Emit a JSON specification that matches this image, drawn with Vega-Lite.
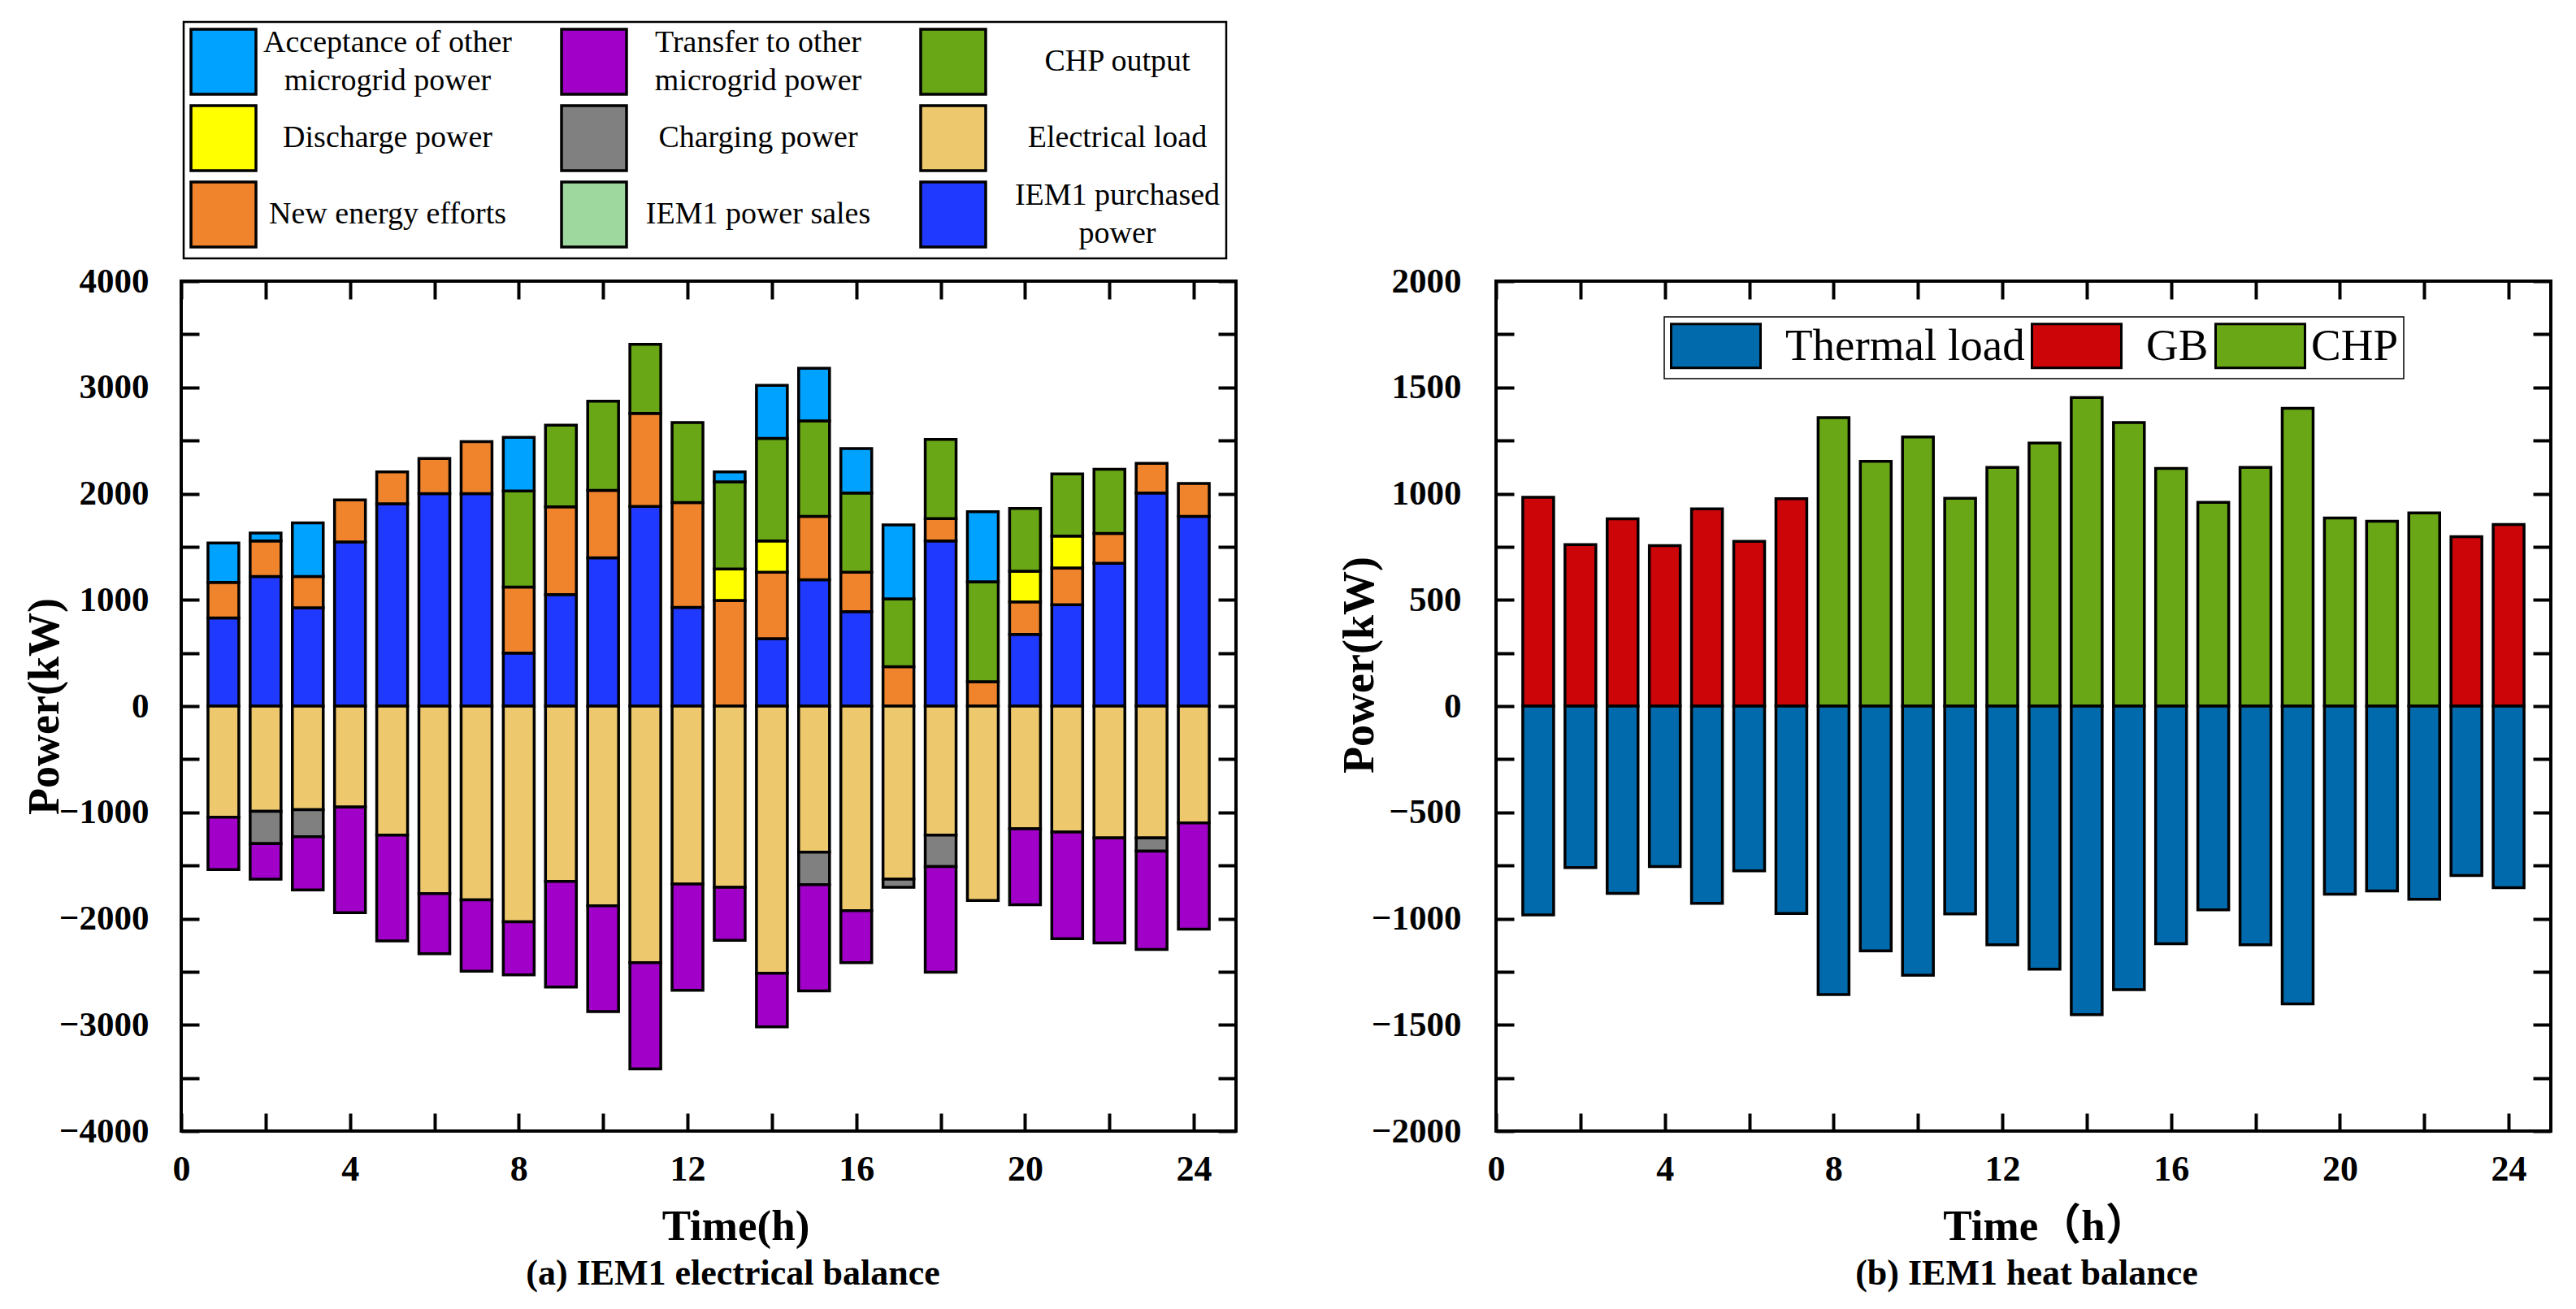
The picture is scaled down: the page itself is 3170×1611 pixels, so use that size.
{
  "$schema": "https://vega.github.io/schema/vega-lite/v6.json",
  "background": "white",
  "padding": {"left": 26, "top": 23, "right": 10, "bottom": 10},
  "bounds": "flush",
  "spacing": 320,
  "resolve": {"scale": {"color": "independent"}, "legend": {"color": "independent"}},
  "config": {
    "view": {"stroke": "black", "strokeWidth": 4},
    "axis": {
      "labelFont": "Liberation Serif", "labelFontWeight": "bold", "labelColor": "black",
      "tickColor": "black", "tickWidth": 4, "tickSize": -22, "domain": false, "grid": false,
      "titleFont": "Liberation Serif", "titleFontWeight": "bold", "titleColor": "black",
      "labelFlush": false, "labelOverlap": false
    },
    "legend": {"labelFont": "Liberation Serif", "labelColor": "black", "labelLimit": 1000}
  },
  "hconcat": [
    {
      "width": 1298,
      "height": 1046,
      "title": {"text": "(a) IEM1 electrical balance", "orient": "bottom", "font": "Liberation Serif", "fontSize": 44, "fontWeight": "bold", "color": "black", "offset": 10, "dx": 30, "anchor": "middle"},
      "data": {"values": [
        {"h":1,"s":"IEM1 purchased power","v":830},{"h":1,"s":"New energy efforts","v":335},{"h":1,"s":"Acceptance of other microgrid power","v":370},{"h":1,"s":"Electrical load","v":-1045},{"h":1,"s":"Transfer to other microgrid power","v":-495},
        {"h":2,"s":"IEM1 purchased power","v":1220},{"h":2,"s":"New energy efforts","v":335},{"h":2,"s":"Acceptance of other microgrid power","v":75},{"h":2,"s":"Electrical load","v":-990},{"h":2,"s":"Charging power","v":-305},{"h":2,"s":"Transfer to other microgrid power","v":-335},
        {"h":3,"s":"IEM1 purchased power","v":925},{"h":3,"s":"New energy efforts","v":295},{"h":3,"s":"Acceptance of other microgrid power","v":505},{"h":3,"s":"Electrical load","v":-975},{"h":3,"s":"Charging power","v":-255},{"h":3,"s":"Transfer to other microgrid power","v":-500},
        {"h":4,"s":"IEM1 purchased power","v":1545},{"h":4,"s":"New energy efforts","v":395},{"h":4,"s":"Electrical load","v":-950},{"h":4,"s":"Transfer to other microgrid power","v":-995},
        {"h":5,"s":"IEM1 purchased power","v":1905},{"h":5,"s":"New energy efforts","v":300},{"h":5,"s":"Electrical load","v":-1215},{"h":5,"s":"Transfer to other microgrid power","v":-995},
        {"h":6,"s":"IEM1 purchased power","v":2000},{"h":6,"s":"New energy efforts","v":330},{"h":6,"s":"Electrical load","v":-1765},{"h":6,"s":"Transfer to other microgrid power","v":-565},
        {"h":7,"s":"IEM1 purchased power","v":2000},{"h":7,"s":"New energy efforts","v":490},{"h":7,"s":"Electrical load","v":-1825},{"h":7,"s":"Transfer to other microgrid power","v":-670},
        {"h":8,"s":"IEM1 purchased power","v":500},{"h":8,"s":"New energy efforts","v":620},{"h":8,"s":"CHP output","v":905},{"h":8,"s":"Acceptance of other microgrid power","v":505},{"h":8,"s":"Electrical load","v":-2030},{"h":8,"s":"Transfer to other microgrid power","v":-500},
        {"h":9,"s":"IEM1 purchased power","v":1050},{"h":9,"s":"New energy efforts","v":825},{"h":9,"s":"CHP output","v":770},{"h":9,"s":"Electrical load","v":-1650},{"h":9,"s":"Transfer to other microgrid power","v":-995},
        {"h":10,"s":"IEM1 purchased power","v":1395},{"h":10,"s":"New energy efforts","v":635},{"h":10,"s":"CHP output","v":840},{"h":10,"s":"Electrical load","v":-1880},{"h":10,"s":"Transfer to other microgrid power","v":-995},
        {"h":11,"s":"IEM1 purchased power","v":1880},{"h":11,"s":"New energy efforts","v":875},{"h":11,"s":"CHP output","v":650},{"h":11,"s":"Electrical load","v":-2415},{"h":11,"s":"Transfer to other microgrid power","v":-1000},
        {"h":12,"s":"IEM1 purchased power","v":930},{"h":12,"s":"New energy efforts","v":985},{"h":12,"s":"CHP output","v":755},{"h":12,"s":"Electrical load","v":-1675},{"h":12,"s":"Transfer to other microgrid power","v":-1000},
        {"h":13,"s":"New energy efforts","v":995},{"h":13,"s":"Discharge power","v":295},{"h":13,"s":"CHP output","v":820},{"h":13,"s":"Acceptance of other microgrid power","v":95},{"h":13,"s":"Electrical load","v":-1705},{"h":13,"s":"Transfer to other microgrid power","v":-500},
        {"h":14,"s":"IEM1 purchased power","v":635},{"h":14,"s":"New energy efforts","v":625},{"h":14,"s":"Discharge power","v":295},{"h":14,"s":"CHP output","v":965},{"h":14,"s":"Acceptance of other microgrid power","v":500},{"h":14,"s":"Electrical load","v":-2515},{"h":14,"s":"Transfer to other microgrid power","v":-505},
        {"h":15,"s":"IEM1 purchased power","v":1190},{"h":15,"s":"New energy efforts","v":595},{"h":15,"s":"CHP output","v":900},{"h":15,"s":"Acceptance of other microgrid power","v":495},{"h":15,"s":"Electrical load","v":-1375},{"h":15,"s":"Charging power","v":-305},{"h":15,"s":"Transfer to other microgrid power","v":-1000},
        {"h":16,"s":"IEM1 purchased power","v":890},{"h":16,"s":"New energy efforts","v":370},{"h":16,"s":"CHP output","v":745},{"h":16,"s":"Acceptance of other microgrid power","v":420},{"h":16,"s":"Electrical load","v":-1925},{"h":16,"s":"Transfer to other microgrid power","v":-490},
        {"h":17,"s":"New energy efforts","v":370},{"h":17,"s":"CHP output","v":640},{"h":17,"s":"Acceptance of other microgrid power","v":695},{"h":17,"s":"Electrical load","v":-1630},{"h":17,"s":"Charging power","v":-75},
        {"h":18,"s":"IEM1 purchased power","v":1555},{"h":18,"s":"New energy efforts","v":210},{"h":18,"s":"CHP output","v":745},{"h":18,"s":"Electrical load","v":-1215},{"h":18,"s":"Charging power","v":-295},{"h":18,"s":"Transfer to other microgrid power","v":-995},
        {"h":19,"s":"New energy efforts","v":230},{"h":19,"s":"CHP output","v":940},{"h":19,"s":"Acceptance of other microgrid power","v":660},{"h":19,"s":"Electrical load","v":-1830},
        {"h":20,"s":"IEM1 purchased power","v":675},{"h":20,"s":"New energy efforts","v":305},{"h":20,"s":"Discharge power","v":290},{"h":20,"s":"CHP output","v":590},{"h":20,"s":"Electrical load","v":-1155},{"h":20,"s":"Transfer to other microgrid power","v":-715},
        {"h":21,"s":"IEM1 purchased power","v":955},{"h":21,"s":"New energy efforts","v":345},{"h":21,"s":"Discharge power","v":300},{"h":21,"s":"CHP output","v":585},{"h":21,"s":"Electrical load","v":-1185},{"h":21,"s":"Transfer to other microgrid power","v":-1005},
        {"h":22,"s":"IEM1 purchased power","v":1345},{"h":22,"s":"New energy efforts","v":280},{"h":22,"s":"CHP output","v":605},{"h":22,"s":"Electrical load","v":-1240},{"h":22,"s":"Transfer to other microgrid power","v":-990},
        {"h":23,"s":"IEM1 purchased power","v":2005},{"h":23,"s":"New energy efforts","v":280},{"h":23,"s":"Electrical load","v":-1240},{"h":23,"s":"Charging power","v":-125},{"h":23,"s":"Transfer to other microgrid power","v":-925},
        {"h":24,"s":"IEM1 purchased power","v":1785},{"h":24,"s":"New energy efforts","v":310},{"h":24,"s":"Electrical load","v":-1100},{"h":24,"s":"Transfer to other microgrid power","v":-1000}
      ]},
      "transform": [
        {"calculate": "indexof(['IEM1 purchased power','Electrical load','New energy efforts','Charging power','Discharge power','Transfer to other microgrid power','CHP output','Acceptance of other microgrid power','IEM1 power sales'], datum.s)", "as": "k"}
      ],
      "layer": [
        {
          "mark": {"type": "bar", "size": 38, "stroke": "black", "strokeWidth": 3.5},
          "encoding": {
            "x": {"field": "h", "type": "quantitative",
              "scale": {"domain": [0, 25], "nice": false, "zero": false, "padding": 0},
              "axis": {"orient": "bottom", "values": [0,2,4,6,8,10,12,14,16,18,20,22,24],
                "labelExpr": "datum.value % 4 === 0 ? datum.label : ''",
                "encode": {"ticks": {"update": {"y2": {"signal": "datum.value % 4 === 0 ? -22 : -12"}}}},
                "labelFontSize": 44, "labelPadding": 47, "labelDx": 16,
                "title": "Time(h)", "titleFontSize": 53, "titleX": 682, "titleY": 133, "titleBaseline": "alphabetic"}},
            "y": {"field": "v", "type": "quantitative", "stack": "zero",
              "scale": {"domain": [-4000, 4000], "nice": false, "padding": 0},
              "axis": {"orient": "left", "values": [-4000,-3500,-3000,-2500,-2000,-1500,-1000,-500,0,500,1000,1500,2000,2500,3000,3500,4000],
                "format": "d",
                "labelExpr": "datum.value % 1000 === 0 ? datum.label : ''",
                "encode": {"ticks": {"update": {"x2": {"signal": "datum.value % 1000 === 0 ? 22 : 12"}}}},
                "labelFontSize": 43, "labelPadding": 62,
                "title": "Power(kW)", "titleFontSize": 54, "titleX": -168, "titleY": 523, "titleBaseline": "middle"}},
            "color": {"field": "s", "type": "nominal",
              "scale": {
                "domain": ["Acceptance of other microgrid power","Transfer to other microgrid power","CHP output","Discharge power","Charging power","Electrical load","New energy efforts","IEM1 power sales","IEM1 purchased power"],
                "range": ["#00A2FF","#A000C8","#6AA716","#FFFF00","#808080","#EDC86C","#F0842C","#9ED89E","#2039FF"]},
              "legend": {"orient": "none", "legendX": 3, "legendY": -319, "direction": "horizontal", "columns": 3, "title": null,
                "symbolType": "square", "symbolSize": 6400, "symbolStrokeColor": "black", "symbolStrokeWidth": 3.5, "symbolOpacity": 1,
                "labelFontSize": 38, "labelAlign": "center", "labelBaseline": "middle", "labelOffset": 160,
                "labelExpr": "datum.label == 'Acceptance of other microgrid power' ? ['Acceptance of other','microgrid power'] : datum.label == 'Transfer to other microgrid power' ? ['Transfer to other','microgrid power'] : datum.label == 'IEM1 purchased power' ? ['IEM1 purchased','power'] : datum.label",
                "columnPadding": 54, "rowPadding": 0, "padding": 7, "strokeColor": "black",
                "encode": {
                  "legend": {"update": {"strokeWidth": {"value": 2.5}}},
                  "labels": {"update": {"lineHeight": {"value": 47}, "dy": {"signal": "indexof(['Acceptance of other microgrid power','Transfer to other microgrid power','IEM1 purchased power'], datum.value) >= 0 ? -23.5 : 0"}}}
                }}},
            "order": {"field": "k", "type": "quantitative"}
          }
        },
        {
          "mark": {"type": "point", "opacity": 0},
          "encoding": {
            "x": {"field": "h", "type": "quantitative",
              "axis": {"orient": "top", "values": [0,2,4,6,8,10,12,14,16,18,20,22,24], "labels": false, "title": null,
                "encode": {"ticks": {"update": {"y2": {"signal": "datum.value % 4 === 0 ? 22 : 12"}}}}}},
            "y": {"field": "v", "type": "quantitative",
              "axis": {"orient": "right", "values": [-4000,-3500,-3000,-2500,-2000,-1500,-1000,-500,0,500,1000,1500,2000,2500,3000,3500,4000], "labels": false, "title": null,
                "encode": {"ticks": {"update": {"x2": {"signal": "datum.value % 1000 === 0 ? -22 : -12"}}}}}}
          }
        }
      ],
      "resolve": {"axis": {"x": "independent", "y": "independent"}}
    },
    {
      "width": 1298,
      "height": 1046,
      "title": {"text": "(b) IEM1 heat balance", "orient": "bottom", "font": "Liberation Serif", "fontSize": 44, "fontWeight": "bold", "color": "black", "offset": 10, "dx": 4, "anchor": "middle"},
      "data": {"values": [
        {"h":1,"s":"GB","v":983},{"h":1,"s":"Thermal load","v":-983},
        {"h":2,"s":"GB","v":760},{"h":2,"s":"Thermal load","v":-760},
        {"h":3,"s":"GB","v":881},{"h":3,"s":"Thermal load","v":-881},
        {"h":4,"s":"GB","v":755},{"h":4,"s":"Thermal load","v":-755},
        {"h":5,"s":"GB","v":928},{"h":5,"s":"Thermal load","v":-928},
        {"h":6,"s":"GB","v":775},{"h":6,"s":"Thermal load","v":-775},
        {"h":7,"s":"GB","v":976},{"h":7,"s":"Thermal load","v":-976},
        {"h":8,"s":"CHP","v":1358},{"h":8,"s":"Thermal load","v":-1358},
        {"h":9,"s":"CHP","v":1152},{"h":9,"s":"Thermal load","v":-1152},
        {"h":10,"s":"CHP","v":1267},{"h":10,"s":"Thermal load","v":-1267},
        {"h":11,"s":"CHP","v":978},{"h":11,"s":"Thermal load","v":-978},
        {"h":12,"s":"CHP","v":1123},{"h":12,"s":"Thermal load","v":-1123},
        {"h":13,"s":"CHP","v":1238},{"h":13,"s":"Thermal load","v":-1238},
        {"h":14,"s":"CHP","v":1452},{"h":14,"s":"Thermal load","v":-1452},
        {"h":15,"s":"CHP","v":1335},{"h":15,"s":"Thermal load","v":-1335},
        {"h":16,"s":"CHP","v":1119},{"h":16,"s":"Thermal load","v":-1119},
        {"h":17,"s":"CHP","v":959},{"h":17,"s":"Thermal load","v":-959},
        {"h":18,"s":"CHP","v":1123},{"h":18,"s":"Thermal load","v":-1123},
        {"h":19,"s":"CHP","v":1402},{"h":19,"s":"Thermal load","v":-1402},
        {"h":20,"s":"CHP","v":885},{"h":20,"s":"Thermal load","v":-885},
        {"h":21,"s":"CHP","v":870},{"h":21,"s":"Thermal load","v":-870},
        {"h":22,"s":"CHP","v":909},{"h":22,"s":"Thermal load","v":-909},
        {"h":23,"s":"GB","v":797},{"h":23,"s":"Thermal load","v":-797},
        {"h":24,"s":"GB","v":855},{"h":24,"s":"Thermal load","v":-855}
      ]},
      "layer": [
        {
          "mark": {"type": "bar", "size": 38, "stroke": "black", "strokeWidth": 3.5},
          "encoding": {
            "x": {"field": "h", "type": "quantitative",
              "scale": {"domain": [0, 25], "nice": false, "zero": false, "padding": 0},
              "axis": {"orient": "bottom", "values": [0,2,4,6,8,10,12,14,16,18,20,22,24],
                "labelExpr": "datum.value % 4 === 0 ? datum.label : ''",
                "encode": {"ticks": {"update": {"y2": {"signal": "datum.value % 4 === 0 ? -22 : -12"}}}},
                "labelFontSize": 44, "labelPadding": 47, "labelDx": 16,
                "title": "Time（h）", "titleFont": "Liberation Serif, Noto Sans CJK SC", "titleFontSize": 53, "titleX": 676, "titleY": 133, "titleBaseline": "alphabetic"}},
            "y": {"field": "v", "type": "quantitative", "stack": "zero",
              "scale": {"domain": [-2000, 2000], "nice": false, "padding": 0},
              "axis": {"orient": "left", "values": [-2000,-1750,-1500,-1250,-1000,-750,-500,-250,0,250,500,750,1000,1250,1500,1750,2000],
                "format": "d",
                "labelExpr": "datum.value % 500 === 0 ? datum.label : ''",
                "encode": {"ticks": {"update": {"x2": {"signal": "datum.value % 500 === 0 ? 22 : 12"}}}},
                "labelFontSize": 43, "labelPadding": 65,
                "title": "Power(kW)", "titleFontSize": 54, "titleX": -168, "titleY": 472, "titleBaseline": "middle"}},
            "color": {"field": "s", "type": "nominal",
              "scale": {"domain": ["Thermal load", "GB", "CHP"], "range": ["#006AAC", "#CC0508", "#6AA716"]},
              "legend": {"orient": "none", "legendX": 207, "legendY": 44, "direction": "horizontal", "columns": 3, "title": null,
                "symbolType": "M-1,-1H3.074V1H-1Z", "symbolSize": 2916, "symbolStrokeColor": "black", "symbolStrokeWidth": 3, "symbolOpacity": 1,
                "labelFontSize": 55, "labelOffset": 85, "labelBaseline": "middle",
                "columnPadding": 2, "padding": 7, "strokeColor": "black",
                "encode": {
                  "legend": {"update": {"strokeWidth": {"value": 1.5}}},
                  "labels": {"update": {"dx": {"signal": "datum.value == 'CHP' ? -23 : 0"}}}
                }}}
          }
        },
        {
          "mark": {"type": "point", "opacity": 0},
          "encoding": {
            "x": {"field": "h", "type": "quantitative",
              "axis": {"orient": "top", "values": [0,2,4,6,8,10,12,14,16,18,20,22,24], "labels": false, "title": null,
                "encode": {"ticks": {"update": {"y2": {"signal": "datum.value % 4 === 0 ? 22 : 12"}}}}}},
            "y": {"field": "v", "type": "quantitative",
              "axis": {"orient": "right", "values": [-2000,-1750,-1500,-1250,-1000,-750,-500,-250,0,250,500,750,1000,1250,1500,1750,2000], "labels": false, "title": null,
                "encode": {"ticks": {"update": {"x2": {"signal": "datum.value % 500 === 0 ? -22 : -12"}}}}}}
          }
        }
      ],
      "resolve": {"axis": {"x": "independent", "y": "independent"}}
    }
  ]
}
